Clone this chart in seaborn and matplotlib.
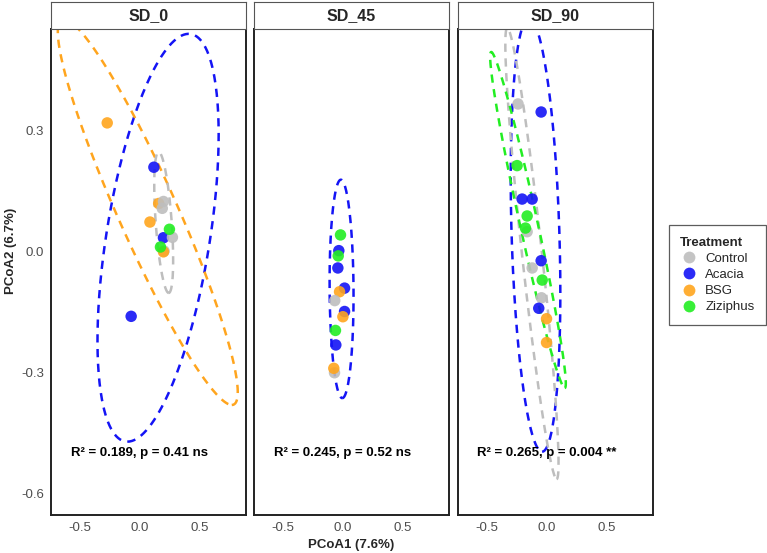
import numpy as np
import pandas as pd
import matplotlib
matplotlib.use("Agg")
import matplotlib.pyplot as plt
import seaborn as sns
from matplotlib.lines import Line2D

# ==========================================
# DATA
# ==========================================
PANELS = ["SD_0", "SD_45", "SD_90"]
TREATMENTS = ["Control", "Acacia", "BSG", "Ziziphus"]
COLORS = ["#BEBEBE", "#1414F5", "#FFA51E", "#22EE22"]
STATS = ["R\u00b2 = 0.189, p = 0.41 ns",
         "R\u00b2 = 0.245, p = 0.52 ns",
         "R\u00b2 = 0.265, p = 0.004 **"]

sd0_group = ["BSG", "Acacia", "BSG", "Control", "Control", "BSG", "Acacia",
             "Control", "Ziziphus", "Control", "BSG", "Ziziphus", "Acacia"]
sd0_x = [-0.27, 0.12, 0.16, 0.20, 0.19, 0.087, 0.20, 0.275, 0.25, 0.205, 0.20, 0.175, -0.07]
sd0_y = [0.32, 0.21, 0.12, 0.125, 0.108, 0.074, 0.035, 0.036, 0.056, 0.002, 0.0, 0.012, -0.16]

sd45_group = ["Ziziphus", "Acacia", "Ziziphus", "Acacia", "Acacia", "BSG", "Control",
              "Acacia", "BSG", "Ziziphus", "Acacia", "Control", "BSG"]
sd45_x = [-0.017, -0.031, -0.036, -0.039, 0.017, -0.025, -0.065,
          0.017, 0.003, -0.059, -0.056, -0.067, -0.073]
sd45_y = [0.042, 0.003, -0.010, -0.040, -0.090, -0.099, -0.121,
          -0.148, -0.161, -0.195, -0.231, -0.300, -0.289]

sd90_group = ["Control", "Acacia", "Ziziphus", "Acacia", "Acacia", "Ziziphus", "Control",
              "Ziziphus", "Acacia", "Control", "Ziziphus", "Control", "Acacia", "BSG", "BSG"]
sd90_x = [-0.238, -0.045, -0.246, -0.204, -0.12, -0.162, -0.162,
          -0.176, -0.045, -0.12, -0.036, -0.042, -0.065, 0.0, 0.0]
sd90_y = [0.367, 0.347, 0.214, 0.131, 0.131, 0.089, 0.050,
          0.059, -0.022, -0.040, -0.070, -0.114, -0.140, -0.166, -0.225]

# 95% ellipses: centre, offset to lowest point, half width of the horizontal chord
ell_panel = ["SD_0", "SD_0", "SD_0", "SD_45", "SD_90", "SD_90", "SD_90"]
ell_group = ["Acacia", "BSG", "Control", "Acacia", "Acacia", "Control", "Ziziphus"]
ell_cx = [0.155, 0.069, 0.202, -0.008, -0.092, -0.122, -0.155]
ell_cy = [0.035, 0.099, 0.073, -0.092, 0.042, -0.004, 0.079]
ell_bx = [-0.256, 0.702, 0.042, 0.006, 0.055, 0.206, 0.307]
ell_by = [-0.506, -0.479, -0.175, -0.271, -0.538, -0.560, -0.417]
ell_hw = [0.437, 0.27, 0.067, 0.100, 0.200, 0.084, 0.076]

# ==========================================
# BUILD TABLES
# ==========================================
pts = pd.concat([
    pd.DataFrame({"panel": "SD_0", "Treatment": sd0_group, "x": sd0_x, "y": sd0_y}),
    pd.DataFrame({"panel": "SD_45", "Treatment": sd45_group, "x": sd45_x, "y": sd45_y}),
    pd.DataFrame({"panel": "SD_90", "Treatment": sd90_group, "x": sd90_x, "y": sd90_y}),
], ignore_index=True)

ell = pd.DataFrame({"panel": ell_panel, "Treatment": ell_group, "cx": ell_cx, "cy": ell_cy,
                    "bx": ell_bx, "by": ell_by, "hw": ell_hw})

palette = dict(zip(TREATMENTS, COLORS))

sns.set_style("white")
plt.rcParams["font.family"] = ["Liberation Sans", "DejaVu Sans"]

fig = plt.figure(figsize=(7.67, 5.53), dpi=100)

W, H = 767.0, 553.0
panel_left = [51, 254, 458]
panel_w = 195
panel_top, panel_bot = 29, 515
strip_top = 2

t = np.linspace(0, 2 * np.pi, 300)
axes = []
for i, name in enumerate(PANELS):
    ax = fig.add_axes([panel_left[i] / W, (H - panel_bot) / H,
                       panel_w / W, (panel_bot - panel_top) / H])
    axes.append(ax)
    sub = pts[pts["panel"] == name]
    sns.scatterplot(data=sub, x="x", y="y", hue="Treatment", palette=palette,
                    hue_order=TREATMENTS, s=68, alpha=0.9, linewidth=0,
                    legend=False, ax=ax, zorder=3)
    for _, e in ell[ell["panel"] == name].iterrows():
        ex = e.cx + e.bx * np.cos(t) + e.hw * np.sin(t)
        ey = e.cy + e.by * np.cos(t)
        ax.plot(ex, ey, color=palette[e.Treatment], lw=1.8,
                linestyle=(0, (3.3, 2.6)), zorder=2)
    ax.text(0.0, -0.50, STATS[i], ha="center", va="center",
            fontsize=9.5, fontweight="bold", color="black")

    ax.set_xlim(-0.74, 0.89)
    ax.set_ylim(-0.653, 0.553)
    ax.set_xticks([-0.5, 0.0, 0.5])
    ax.set_xticklabels(["-0.5", "0.0", "0.5"])
    ax.set_yticks([-0.6, -0.3, 0.0, 0.3])
    ax.set_yticklabels(["-0.6", "-0.3", "0.0", "0.3"])
    ax.set_xlabel("")
    ax.set_ylabel("")
    ax.tick_params(axis="both", length=3, width=0.8, color="#333333",
                   labelcolor="#4D4D4D", labelsize=9.5, pad=2)
    if i > 0:
        ax.tick_params(axis="y", left=False, labelleft=False)
    for sp in ax.spines.values():
        sp.set_color("#222222")
        sp.set_linewidth(1.4)

    # facet strip
    sax = fig.add_axes([panel_left[i] / W, (H - panel_top) / H,
                        panel_w / W, (panel_top - strip_top) / H])
    sax.set_xticks([])
    sax.set_yticks([])
    for sp in sax.spines.values():
        sp.set_color("#555555")
        sp.set_linewidth(0.8)
    sax.text(0.5, 0.5, name, ha="center", va="center", fontsize=11.5,
             fontweight="bold", transform=sax.transAxes)

fig.text(11 / W, (H - 251) / H, "PCoA2 (6.7%)", ha="center", va="center", rotation=90,
         fontsize=9.5, fontweight="bold")
fig.text((51 + 652) / 2 / W, (H - 545) / H, "PCoA1 (7.6%)", ha="center", va="center",
         fontsize=9.5, fontweight="bold")

handles = [Line2D([0], [0], marker="o", linestyle="", markersize=8.5,
                  markerfacecolor=c, markeredgewidth=0, alpha=0.9) for c in COLORS]
leg = fig.legend(handles, TREATMENTS, title="Treatment", loc="center left",
                 bbox_to_anchor=(669 / W, (H - 275) / H), borderaxespad=0,
                 frameon=True, fancybox=False,
                 edgecolor="#333333", fontsize=9.5, handletextpad=0.5, labelspacing=0.3,
                 borderpad=0.85, handlelength=1.4, alignment="left",
                 title_fontproperties={"weight": "bold", "size": 9.5})
leg.get_frame().set_linewidth(0.9)

plt.savefig("out.png", dpi=100)
plt.close()
